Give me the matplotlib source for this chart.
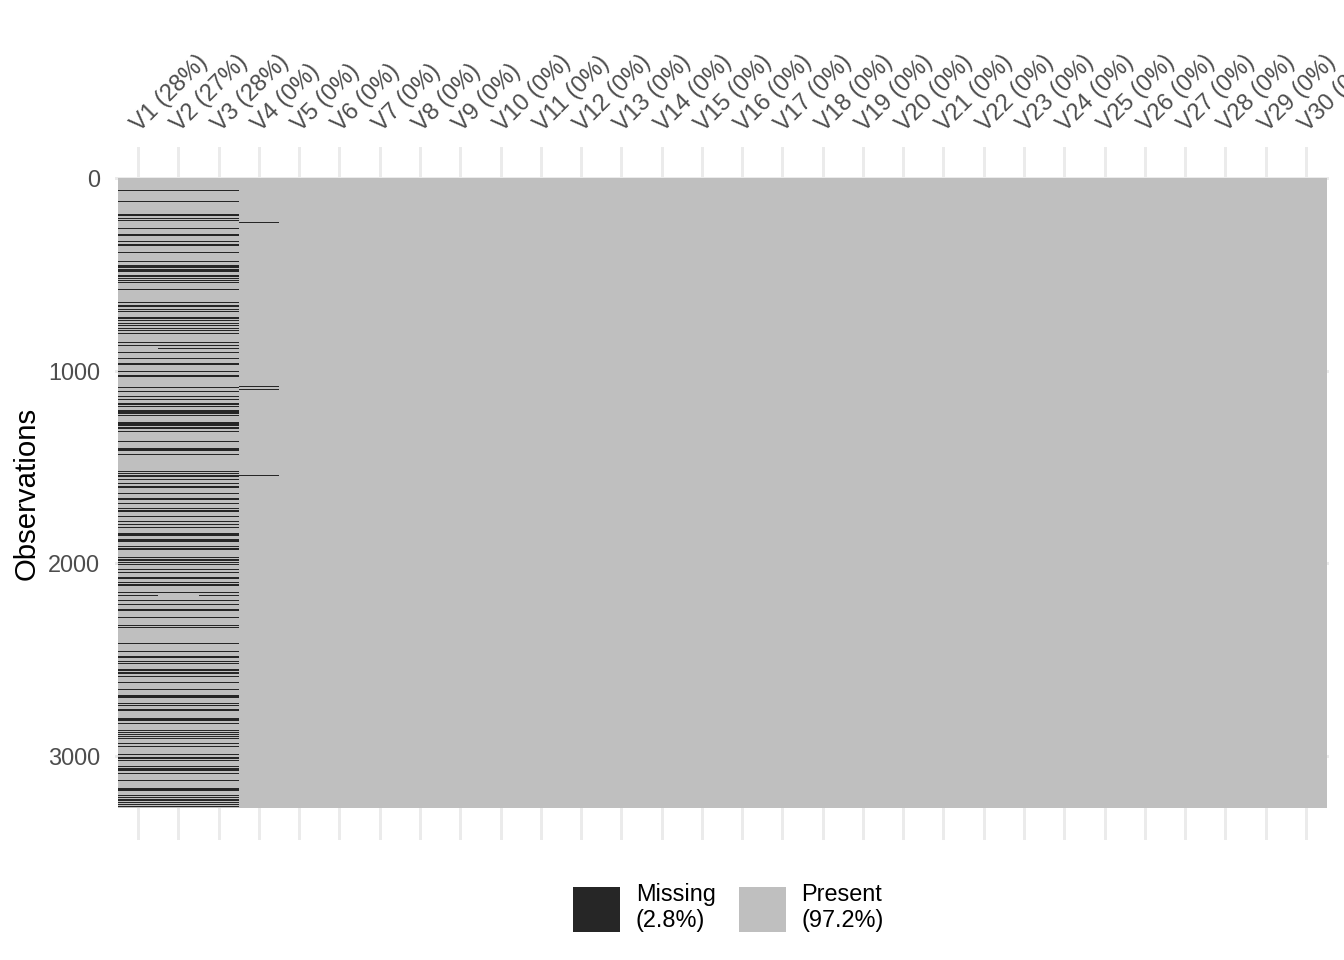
import numpy as np
import matplotlib
matplotlib.use("Agg")
import matplotlib.pyplot as plt
import matplotlib.transforms as mtransforms
from matplotlib.colors import ListedColormap
from matplotlib.patches import Patch

plt.rcParams['font.family'] = ['Liberation Sans', 'DejaVu Sans']

# ---------------- data ----------------
n_obs = 3270
variables = [f"V{i}" for i in range(1, 31)]

# missing-row bands shared by V1, V2, V3 (first row, number of rows)
band_start = [61, 118, 189, 207, 219, 231, 258, 289, 326, 341, 383, 392, 430, 452, 470, 480,
              502, 517, 528, 542, 574, 643, 658, 679, 689, 724, 738, 752, 764, 778, 790, 806,
              850, 866, 902, 933, 959, 1001, 1020, 1030, 1084, 1105, 1131, 1148, 1166, 1183,
              1204, 1229, 1268, 1295, 1311, 1364, 1402, 1432, 1520, 1530, 1542, 1564, 1584,
              1601, 1636, 1661, 1688, 1700, 1712, 1722, 1754, 1780, 1795, 1811, 1843, 1874,
              1911, 1919, 1968, 1978, 1992, 2003, 2029, 2044, 2071, 2096, 2108, 2148, 2190,
              2210, 2236, 2278, 2319, 2330, 2415, 2454, 2480, 2508, 2517, 2547, 2563, 2583,
              2615, 2652, 2684, 2726, 2737, 2756, 2803, 2828, 2866, 2877, 2887, 2898, 2908,
              2932, 2947, 2989, 3004, 3022, 3050, 3063, 3088, 3124, 3167, 3204, 3212, 3225,
              3238, 3249, 3261]
band_len = [6, 5, 6, 5, 6, 5, 6, 10, 5, 10, 6, 5, 6, 16, 5, 6,
            10, 5, 6, 5, 6, 5, 10, 6, 5, 6, 5, 6, 5, 6, 5, 6,
            5, 6, 5, 6, 10, 5, 6, 5, 6, 5, 6, 5, 10, 6,
            19, 5, 19, 6, 5, 6, 16, 5, 6, 5, 10, 6, 5,
            6, 5, 10, 6, 5, 6, 10, 5, 6, 5, 6, 14, 16,
            5, 10, 6, 10, 5, 6, 5, 6, 10, 5, 10, 6, 5,
            6, 10, 5, 6, 5, 6, 5, 10, 6, 5, 10, 10, 6,
            5, 6, 16, 5, 6, 10, 16, 5, 6, 5, 6, 5, 6,
            5, 6, 5, 10, 5, 5, 16, 5, 5, 16, 5, 5, 10,
            5, 5, 5]

# rows missing only in some of V1-V3
v1v3_start = [2164]
v1v3_len = [7]
v2v3_start = [881]
v2v3_len = [5]

# rows missing in V4
v4_start = [227, 1079, 1094, 1544]
v4_len = [4, 4, 4, 4]

# ---------------- build missingness matrix ----------------
miss = np.zeros((n_obs, len(variables)), dtype=int)
for s, l in zip(band_start, band_len):
    miss[s:s + l, 0:3] = 1
for s, l in zip(v1v3_start, v1v3_len):
    miss[s:s + l, 0] = 1
    miss[s:s + l, 2] = 1
for s, l in zip(v2v3_start, v2v3_len):
    miss[s:s + l, 1] = 1
    miss[s:s + l, 2] = 1
for s, l in zip(v4_start, v4_len):
    miss[s:s + l, 3] = 1

col_pct = miss.mean(axis=0) * 100
tot_pct = miss.mean() * 100
xlabels = [f"{v} ({p:.0f}%)" for v, p in zip(variables, col_pct)]

present_col = '#BFBFBF'
missing_col = '#262626'
text_col = '#4D4D4D'
grid_col = '#EBEBEB'

W, H = 1344, 960
fig = plt.figure(figsize=(7, 5), dpi=192)
ax = fig.add_axes([115 / W, 1 - 839.5 / H, 1214 / W, 693 / H])

cmap = ListedColormap([present_col, missing_col])
ax.imshow(miss, aspect='auto', interpolation='nearest', cmap=cmap, vmin=0, vmax=1,
          extent=(0.5, len(variables) + 0.5, n_obs, 0), zorder=1)

ax.set_xlim(0.5 - 0.0745, len(variables) + 0.5 + 0.0745)
ax.set_ylim(n_obs + 163.5, -163.5)

ax.set_xticks(np.arange(1, len(variables) + 1))
ax.set_yticks([0, 1000, 2000, 3000])
ax.grid(True, color=grid_col, linewidth=1.1, zorder=0)
ax.set_axisbelow(True)
for sp in ax.spines.values():
    sp.set_visible(False)

ax.xaxis.tick_top()
ax.set_xticklabels(xlabels, rotation=45, ha='left', va='bottom',
                   rotation_mode='anchor', fontsize=8.8, color=text_col)
ax.tick_params(axis='x', length=0, pad=5.8)
ax.tick_params(axis='y', length=0, pad=5.6, labelsize=8.8, labelcolor=text_col)
offset = mtransforms.ScaledTranslation(5 / 192, -5 / 192, fig.dpi_scale_trans)
for lab in ax.get_xticklabels():
    lab.set_transform(lab.get_transform() + offset)

fig.text(27 / W, 1 - 493 / H, "Observations", rotation=90, ha='center', va='center',
         fontsize=11, color='black')

handles = [Patch(facecolor=missing_col, edgecolor='none'),
           Patch(facecolor=present_col, edgecolor='none')]
labels = [f"Missing\n({tot_pct:.1f}%)", f"Present\n({100 - tot_pct:.1f}%)"]
fig.legend(handles, labels, loc='center', bbox_to_anchor=(728.5 / W, 1 - 907.4 / H),
           ncol=2, frameon=False, fontsize=8.8, handlelength=2.0, handleheight=2.6,
           handletextpad=0.65, columnspacing=1.0, borderpad=0, borderaxespad=0)

fig.savefig("out.png", dpi=192)
